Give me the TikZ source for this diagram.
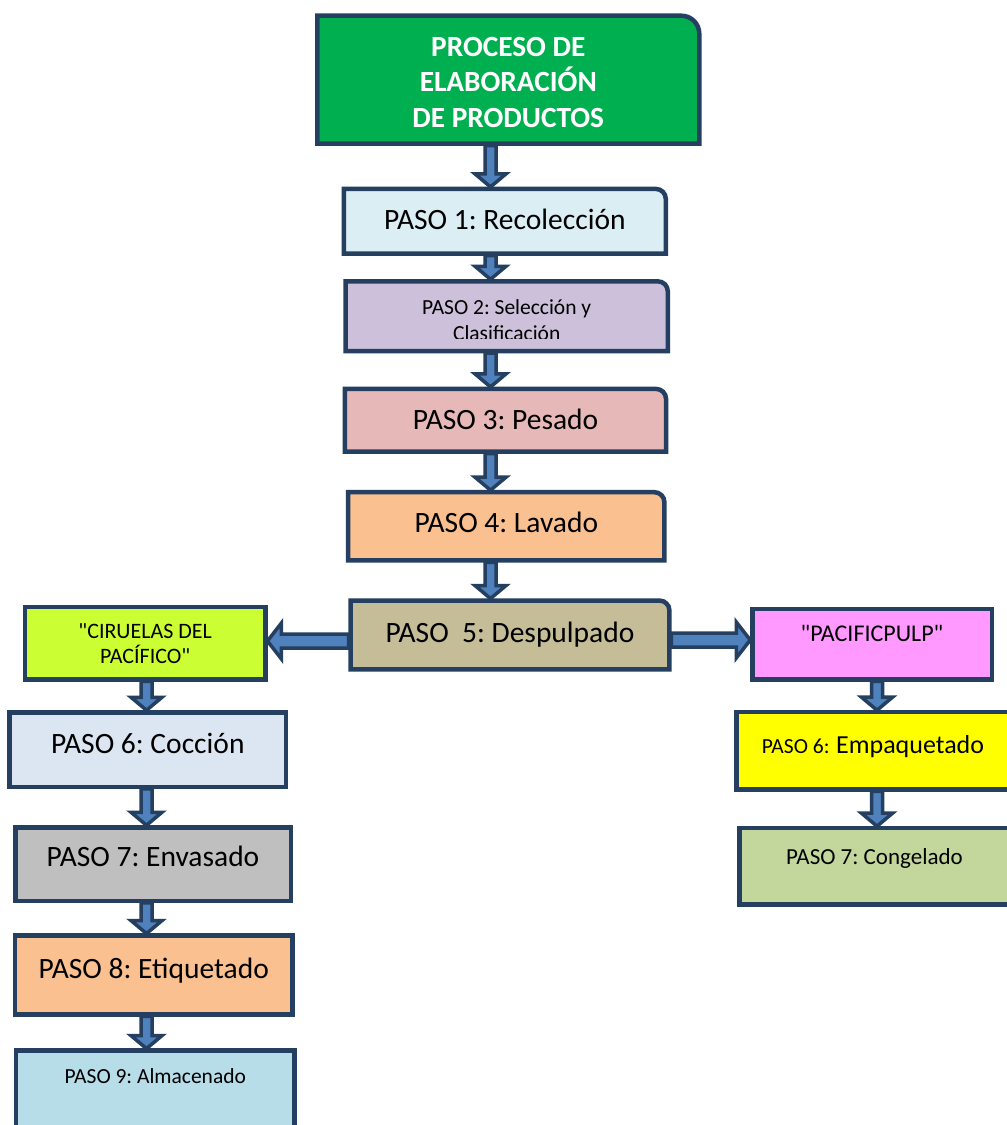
\documentclass[tikz,border=0pt]{standalone}
\usepackage{fontspec}
\setmainfont{Carlito}
\usetikzlibrary{calc,backgrounds}
\definecolor{edge}{HTML}{243F60}
\definecolor{afill}{HTML}{4F81BD}
\definecolor{ctitle}{HTML}{00B050}
\definecolor{cpa}{HTML}{DAEEF3}
\definecolor{cpb}{HTML}{CCC0DA}
\definecolor{cpc}{HTML}{E6B9B8}
\definecolor{cpd}{HTML}{FAC090}
\definecolor{cpe}{HTML}{C4BD97}
\definecolor{ccir}{HTML}{CCFF33}
\definecolor{cls}{HTML}{DCE6F2}
\definecolor{clt}{HTML}{BFBFBF}
\definecolor{clu}{HTML}{FAC090}
\definecolor{clv}{HTML}{B7DDE8}
\definecolor{cpac}{HTML}{FF99FF}
\definecolor{cemp}{HTML}{FFFF00}
\definecolor{ccong}{HTML}{C3D69B}
\newcommand\boxtxt[2]{\raisebox{#1}[\height][\depth]{\begin{tabular}{@{}c@{}}#2\end{tabular}}}
\newcommand\qq{\XeTeXglyph\XeTeXcharglyph"22\relax}
% block arrow: start, end, shaft half width, head half width, head length
\newcommand\barrow[5]{%
  \coordinate (bA) at #1;
  \coordinate (bB) at #2;
  \coordinate (bH) at ($(bB)!#5!(bA)$);
  \draw[blk] ($(bA)!#3!90:(bB)$) -- ($(bH)!#3!-90:(bA)$) -- ($(bH)!#4!-90:(bA)$)
    -- (bB) -- ($(bH)!#4!90:(bA)$) -- ($(bH)!#3!90:(bA)$) -- ($(bA)!#3!-90:(bB)$) -- cycle;}
\newcommand\varr[3]{\barrow{($(#1.south -| #3)+(0,2)$)}{($(#2.north -| #3)+(0,-2)$)}{5.5pt}{15.5pt}{13pt}}
\newcommand\rframe[3]{%
  \draw[draw=edge, line width=4.5pt, fill=#2] (#1.south west) -- (#1.north west)
    -- ([xshift=-#3]#1.north east) arc[start angle=90, end angle=0, radius=#3]
    -- (#1.south east) -- cycle;}
\frenchspacing
\begin{document}
\begin{tikzpicture}[x=1pt,y=-1pt,
  box/.style={line width=4.5pt, inner sep=0pt, outer sep=0pt, text=black,
    font=\fontsize{29.5}{35}\selectfont},
  rbox/.style={box, draw=none},
  pbox/.style={box, draw=edge, fill=#1},
  small/.style={font=\fontsize{21.5}{26}\selectfont},
  blk/.style={draw=edge, fill=afill, line width=3.5pt, line join=miter, miter limit=10}]
\useasboundingbox (0,0) rectangle (1007,1125);

% column coordinates for arrows
\coordinate (cx) at (490.5,0);
\coordinate (lx) at (146.5,0);
\coordinate (rx) at (877,0);
\coordinate (ly) at (0,641);
\coordinate (ry) at (0,640);

% central column
\node[rbox, minimum width=382pt, minimum height=128pt, text=white,
  font=\bfseries\fontsize{29.3}{35.5}\selectfont] (title) at (508.3,79.7)
  {\boxtxt{-5pt}{PROCESO DE\\ELABORACIÓN\\DE PRODUCTOS}};
\node[rbox, minimum width=322pt, minimum height=64.8pt] (p1) at (504.8,221.3)
  {\boxtxt{-1pt}{PASO 1: Recolección}};
\begin{scope}
  \clip (344,283) rectangle (668,338.5);
  \node[rbox, small, minimum width=322.2pt, minimum height=69.8pt] (p2) at (506.7,316.2)
    {\boxtxt{-6pt}{PASO 2: Selección y\\Clasificación}};
\end{scope}
\node[rbox, minimum width=321.1pt, minimum height=62.8pt] (p3) at (505.5,420.3)
  {\boxtxt{-2pt}{PASO 3: Pesado}};
\node[rbox, minimum width=316.2pt, minimum height=68.2pt] (p4) at (506.3,526.3)
  {\boxtxt{1pt}{PASO 4: Lavado}};
\node[rbox, minimum width=318.9pt, minimum height=68.9pt] (p5) at (510,635)
  {\boxtxt{-0.5pt}{PASO\ \ 5: Despulpado}};

% left column
\node[pbox=ccir, minimum width=240.5pt, minimum height=72.2pt,
  font=\fontsize{22}{24.5}\selectfont] (cir) at (145.2,643.3)
  {\boxtxt{-2.7pt}{\qq CIRUELAS DEL\\PACÍFICO\qq}};
\node[pbox=cls, minimum width=276.5pt, minimum height=74.5pt] (l6) at (147.8,749.5)
  {\boxtxt{3pt}{PASO 6: Cocción}};
\node[pbox=clt, minimum width=275.5pt, minimum height=73.5pt] (l7) at (153,864)
  {\boxtxt{4.8pt}{PASO 7: Envasado}};
\node[pbox=clu, minimum width=277.8pt, minimum height=78.9pt] (l8) at (153.8,975)
  {\boxtxt{3.6pt}{PASO 8: Etiquetado}};
\node[pbox=clv, small, minimum width=278.2pt, minimum height=82.2pt] (l9) at (155.3,1091.7)
  {\boxtxt{13pt}{PASO 9: Almacenado}};

% right column
\node[pbox=cpac, minimum width=239.5pt, minimum height=70.5pt,
  font=\fontsize{24}{28}\selectfont] (pac) at (872,644.2)
  {\boxtxt{8pt}{\qq PACIFICPULP\qq}};
\node[pbox=cemp, minimum width=273.5pt, minimum height=77.2pt] (emp) at (873,750.8)
  {\boxtxt{4.8pt}{{\fontsize{21.5}{26}\selectfont PASO 6:} {\fontsize{26}{31}\selectfont Empaquetado}}};
\node[pbox=ccong, minimum width=270.5pt, minimum height=76.2pt,
  font=\fontsize{23}{27}\selectfont] (cong) at (874.5,866.3)
  {\boxtxt{7.6pt}{PASO 7: Congelado}};

% frames with one rounded corner
\begin{scope}[on background layer]
  \fill[white] (0,0) rectangle (1007,1125);
  \rframe{title}{ctitle}{18pt}
  \rframe{p1}{cpa}{10pt}
  \rframe{p2}{cpb}{10pt}
  \rframe{p3}{cpc}{10pt}
  \rframe{p4}{cpd}{10pt}
  \rframe{p5}{cpe}{10pt}
\end{scope}

% arrows
\varr{title}{p1}{cx}
\varr{p1}{p2}{cx}
\varr{p2}{p3}{cx}
\varr{p3}{p4}{cx}
\varr{p4}{p5}{cx}
\barrow{($(p5.west |- ly)+(-2,0)$)}{($(cir.east |- ly)+(2,0)$)}{7pt}{18pt}{14pt}
\barrow{($(p5.east |- ry)+(2,0)$)}{($(pac.west |- ry)+(-2,0)$)}{7pt}{18pt}{14pt}
\varr{cir}{l6}{lx}
\varr{l6}{l7}{lx}
\varr{l7}{l8}{lx}
\varr{l8}{l9}{lx}
\varr{pac}{emp}{rx}
\varr{emp}{cong}{rx}
\end{tikzpicture}
\end{document}
